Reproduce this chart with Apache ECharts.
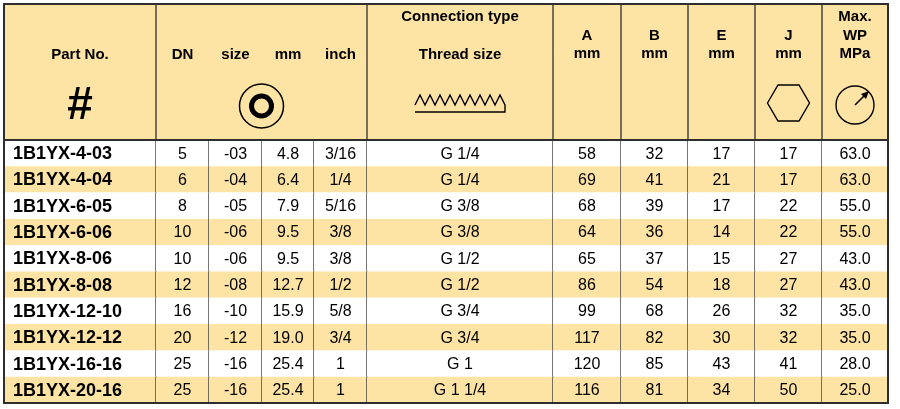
<!DOCTYPE html>
<html>
<head>
<meta charset="utf-8">
<script src="https://cdn.jsdelivr.net/npm/echarts/dist/echarts.min.js"></script>
<style>
  html, body { margin: 0; padding: 0; background: #fff; }
  #main { width: 900px; height: 409px; }
</style>
</head>
<body>
<div id="main"></div>
<script>
// table data
const partNos = ['1B1YX-4-03', '1B1YX-4-04', '1B1YX-6-05', '1B1YX-6-06', '1B1YX-8-06',
  '1B1YX-8-08', '1B1YX-12-10', '1B1YX-12-12', '1B1YX-16-16', '1B1YX-20-16']
const dn = ['5', '6', '8', '10', '10', '12', '16', '20', '25', '25']
const sizeCodes = ['-03', '-04', '-05', '-06', '-06', '-08', '-10', '-12', '-16', '-16']
const boreMm = ['4.8', '6.4', '7.9', '9.5', '9.5', '12.7', '15.9', '19.0', '25.4', '25.4']
const boreInch = ['3/16', '1/4', '5/16', '3/8', '3/8', '1/2', '5/8', '3/4', '1', '1']
const threads = ['G 1/4', 'G 1/4', 'G 3/8', 'G 3/8', 'G 1/2', 'G 1/2', 'G 3/4', 'G 3/4', 'G 1', 'G 1 1/4']
const dimA = ['58', '69', '68', '64', '65', '86', '99', '117', '120', '116']
const dimB = ['32', '41', '39', '36', '37', '54', '68', '82', '85', '81']
const dimE = ['17', '21', '17', '14', '15', '18', '26', '30', '43', '34']
const dimJ = ['17', '17', '22', '22', '27', '27', '32', '32', '41', '50']
const maxWp = ['63.0', '63.0', '55.0', '55.0', '43.0', '43.0', '35.0', '35.0', '28.0', '25.0']

const columns = [partNos, dn, sizeCodes, boreMm, boreInch, threads, dimA, dimB, dimE, dimJ, maxWp]

// layout
const colWidths = [152, 53, 53, 52, 53, 186, 68, 67, 67, 67, 66]
const LEFT = 4, TOP = 4, HEAD_BOTTOM = 140, BOTTOM = 403
const YELLOW = '#fde4a5'
const LINE = '#2e2e2e'
const FONT = '"Liberation Sans", Arial, Helvetica, sans-serif'

const edges = [0]
colWidths.forEach(w => edges.push(edges[edges.length - 1] + w))
const totalW = edges[edges.length - 1]
const cx = c => LEFT + (edges[c] + edges[c + 1]) / 2

const cells = []
partNos.forEach((p, r) => {
  columns.forEach((col, c) => cells.push([c, r]))
})

function headText (text, x, y, size) {
  return {
    type: 'text', z: 10,
    style: {
      text: text, x: x, y: y, align: 'center', verticalAlign: 'middle',
      font: 'bold ' + (size || 15) + 'px ' + FONT, fill: '#000'
    }
  }
}

const graphics = []
// header background
graphics.push({ type: 'rect', z: 1, shape: { x: LEFT, y: TOP, width: totalW, height: HEAD_BOTTOM - TOP }, style: { fill: YELLOW } })
// header dividers (none inside the DN / size / mm / inch group)
;[1, 5, 6, 7, 8, 9, 10].forEach(i => {
  graphics.push({ type: 'line', z: 5, shape: { x1: LEFT + edges[i], y1: TOP, x2: LEFT + edges[i], y2: HEAD_BOTTOM }, style: { stroke: LINE, lineWidth: 1.3 } })
})
graphics.push({ type: 'line', z: 6, shape: { x1: LEFT, y1: HEAD_BOTTOM, x2: LEFT + totalW, y2: HEAD_BOTTOM }, style: { stroke: LINE, lineWidth: 2 } })
graphics.push({ type: 'rect', z: 20, shape: { x: LEFT, y: TOP, width: totalW, height: BOTTOM - TOP }, style: { fill: 'none', stroke: LINE, lineWidth: 2 } })

// header texts
graphics.push(headText('Part No.', cx(0), 55))
graphics.push(headText('#', cx(0), 106, 46))
graphics.push(headText('DN', cx(1), 55))
graphics.push(headText('size', cx(2), 55))
graphics.push(headText('mm', cx(3), 55))
graphics.push(headText('inch', cx(4), 55))
graphics.push(headText('Connection type', cx(5), 17))
graphics.push(headText('Thread size', cx(5), 55))
;[['A', 6], ['B', 7], ['E', 8], ['J', 9]].forEach(([t, c]) => {
  graphics.push(headText(t, cx(c), 36))
  graphics.push(headText('mm', cx(c), 54))
})
graphics.push(headText('Max.', cx(10), 17))
graphics.push(headText('WP', cx(10), 36))
graphics.push(headText('MPa', cx(10), 54))

// bore icon
const boreX = LEFT + (edges[1] + edges[5]) / 2
graphics.push({ type: 'circle', z: 10, shape: { cx: boreX, cy: 106, r: 22 }, style: { fill: 'none', stroke: '#000', lineWidth: 1.5 } })
graphics.push({ type: 'circle', z: 10, shape: { cx: boreX, cy: 106, r: 10 }, style: { fill: 'none', stroke: '#000', lineWidth: 5 } })

// thread icon
const tx = cx(5)
const zig = [[tx - 45, 105]]
for (let k = 0; k < 9; k++) {
  zig.push([tx - 45 + 10 * k + 5, 95])
  zig.push([tx - 45 + 10 * (k + 1), 105])
}
zig.push([tx + 45, 112])
zig.push([tx - 45, 112])
graphics.push({ type: 'polyline', z: 10, shape: { points: zig }, style: { fill: 'none', stroke: '#000', lineWidth: 1.4 } })

// hexagon icon
const hx = cx(9)
graphics.push({
  type: 'polygon', z: 10,
  shape: { points: [[hx - 21, 103], [hx - 10.5, 85], [hx + 10.5, 85], [hx + 21, 103], [hx + 10.5, 121], [hx - 10.5, 121]] },
  style: { fill: 'none', stroke: '#000', lineWidth: 1.4 }
})

// pressure gauge icon
const gx = cx(10)
graphics.push({ type: 'circle', z: 10, shape: { cx: gx, cy: 105, r: 19 }, style: { fill: 'none', stroke: '#000', lineWidth: 1.4 } })
graphics.push({ type: 'line', z: 10, shape: { x1: gx, y1: 105, x2: gx + 10, y2: 95 }, style: { stroke: '#000', lineWidth: 1.6 } })
graphics.push({ type: 'polygon', z: 10, shape: { points: [[gx + 14, 91], [gx + 6, 94], [gx + 11, 99]] }, style: { fill: '#000' } })

const chart = echarts.init(document.getElementById('main'), null, { renderer: 'canvas' })
chart.setOption({
  animation: false,
  backgroundColor: '#fff',
  grid: { left: LEFT, top: HEAD_BOTTOM, width: totalW, height: BOTTOM - HEAD_BOTTOM },
  xAxis: { type: 'value', min: 0, max: totalW, show: false },
  yAxis: { type: 'category', data: partNos, inverse: true, show: false },
  graphic: graphics,
  series: [{
    type: 'custom',
    clip: false,
    data: cells,
    renderItem: (params, api) => {
      const c = api.value(0)
      const r = api.value(1)
      const p0 = api.coord([edges[c], r])
      const p1 = api.coord([edges[c + 1], r])
      const h = api.size([0, 1])[1]
      const y0 = p0[1] - h / 2
      const children = [{
        type: 'rect',
        shape: { x: p0[0], y: y0, width: p1[0] - p0[0], height: h },
        style: { fill: r % 2 ? YELLOW : '#fff' }
      }, {
        type: 'text',
        style: {
          text: columns[c][r],
          x: c === 0 ? p0[0] + 9 : (p0[0] + p1[0]) / 2,
          y: p0[1] + 1,
          align: c === 0 ? 'left' : 'center',
          verticalAlign: 'middle',
          font: c === 0 ? 'bold 18px ' + FONT : '16px ' + FONT,
          fill: '#000'
        }
      }]
      if (c < columns.length - 1) {
        children.push({
          type: 'line',
          shape: { x1: p1[0], y1: y0, x2: p1[0], y2: y0 + h },
          style: { stroke: LINE, lineWidth: 1.3 }
        })
      }
      return { type: 'group', children: children }
    }
  }]
})
</script>
</body>
</html>
